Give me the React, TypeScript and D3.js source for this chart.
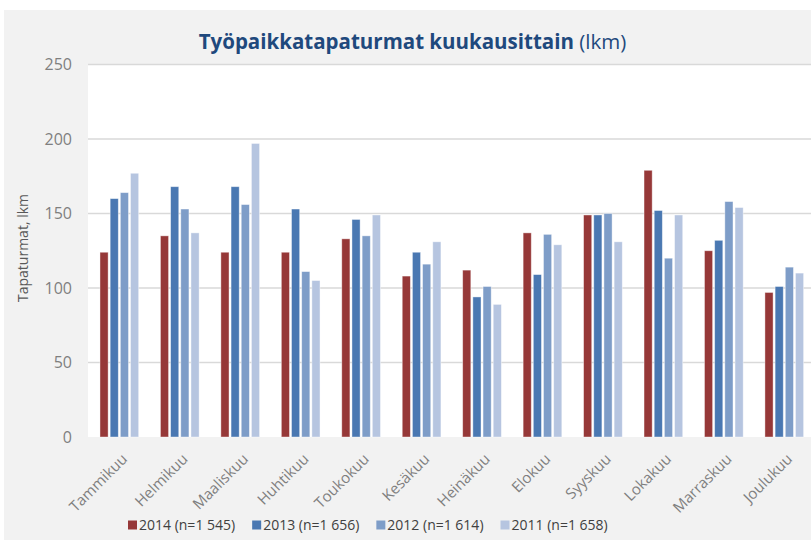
import { useEffect, useRef } from 'react';
import * as d3 from 'd3';

// kuukaudet
const months = [
  'Tammikuu', 'Helmikuu', 'Maaliskuu', 'Huhtikuu', 'Toukokuu', 'Kesäkuu',
  'Heinäkuu', 'Elokuu', 'Syyskuu', 'Lokakuu', 'Marraskuu', 'Joulukuu',
];
const seriesNames = ['2014 (n=1 545)', '2013 (n=1 656)', '2012 (n=1 614)', '2011 (n=1 658)'];
const values2014 = [124, 135, 124, 124, 133, 108, 112, 137, 149, 179, 125, 97];
const values2013 = [160, 168, 168, 153, 146, 124, 94, 109, 149, 152, 132, 101];
const values2012 = [164, 153, 156, 111, 135, 116, 101, 136, 150, 120, 158, 114];
const values2011 = [177, 137, 197, 105, 149, 131, 89, 129, 131, 149, 154, 110];
const yTicks = [0, 50, 100, 150, 200, 250];
const colors = ['#963838', '#4a78b2', '#7e9dc8', '#b6c5e0'];

const App: React.FC = () => {
  const svgRef = useRef<SVGSVGElement | null>(null);

  useEffect(() => {
    if (svgRef.current === null) return;
    const width = 811;
    const height = 540;
    const plot = { left: 88, right: 811, top: 64.5, bottom: 437 };
    const allValues = [values2014, values2013, values2012, values2011];

    const svg = d3.select(svgRef.current).attr('width', width).attr('height', height);
    svg.selectAll('*').remove();

    // taustat
    svg.append('rect').attr('width', width).attr('height', height).attr('fill', '#ffffff');
    svg.append('rect').attr('x', 4).attr('y', 10).attr('width', width).attr('height', height).attr('fill', '#f2f2f2');
    svg
      .append('rect')
      .attr('x', plot.left)
      .attr('y', plot.top)
      .attr('width', plot.right - plot.left)
      .attr('height', plot.bottom - plot.top)
      .attr('fill', '#ffffff');

    const y = d3.scaleLinear().domain([0, 250]).range([plot.bottom, plot.top]);
    const x0 = d3
      .scaleBand<string>()
      .domain(months)
      .range([89.1, 814.5])
      .paddingInner(0.36)
      .paddingOuter(0.18);
    const x1 = d3
      .scaleBand<string>()
      .domain(seriesNames)
      .range([0, x0.bandwidth()])
      .paddingInner(0.2);

    // ruudukko
    svg
      .selectAll('.grid')
      .data(yTicks.filter((d) => d > 0))
      .enter()
      .append('line')
      .attr('x1', plot.left)
      .attr('x2', plot.right)
      .attr('y1', (d) => y(d))
      .attr('y2', (d) => y(d))
      .attr('stroke', '#d9d9d9')
      .attr('stroke-width', 1.5);

    // y-akselin luvut
    svg
      .selectAll('.ytick')
      .data(yTicks)
      .enter()
      .append('text')
      .attr('x', 72)
      .attr('y', (d) => y(d))
      .attr('dy', '0.35em')
      .attr('text-anchor', 'end')
      .attr('fill', '#7f7f7f')
      .style('font-size', '16px')
      .text((d) => d);

    svg
      .append('text')
      .attr('transform', `translate(28, 248) rotate(-90)`)
      .attr('text-anchor', 'middle')
      .attr('fill', '#595959')
      .style('font-size', '14px')
      .text('Tapaturmat, lkm');

    // pylväät
    const groups = svg
      .selectAll('.month')
      .data(months)
      .enter()
      .append('g')
      .attr('transform', (d) => `translate(${x0(d)},0)`);

    groups
      .selectAll('rect')
      .data((_d, i) => seriesNames.map((s, j) => ({ s, j, v: allValues[j][i] })))
      .enter()
      .append('rect')
      .attr('x', (d) => x1(d.s)!)
      .attr('y', (d) => y(d.v))
      .attr('width', x1.bandwidth())
      .attr('height', (d) => y(0) - y(d.v))
      .attr('fill', (d) => colors[d.j])
      .attr('stroke', '#ffffff')
      .attr('stroke-opacity', 0.5)
      .attr('stroke-width', 0.8);

    // x-akselin nimet
    svg
      .selectAll('.xlabel')
      .data(months)
      .enter()
      .append('text')
      .attr('transform', (d) => `translate(${x0(d)! + x0.bandwidth() / 2 + 9}, 460) rotate(-45)`)
      .attr('text-anchor', 'end')
      .attr('fill', '#7f7f7f')
      .style('font-size', '15px')
      .text((d) => d);

    // otsikko
    const title = svg
      .append('text')
      .attr('x', 412.5)
      .attr('y', 49)
      .attr('text-anchor', 'middle')
      .attr('fill', '#1f497d')
      .style('font-size', '20.5px');
    title.append('tspan').style('font-weight', 'bold').text('Työpaikkatapaturmat kuukausittain ');
    title.append('tspan').text('(lkm)');

    // selite
    let lx = 128;
    seriesNames.forEach((name, j) => {
      svg
        .append('rect')
        .attr('x', lx)
        .attr('y', 520.5)
        .attr('width', 9)
        .attr('height', 9)
        .attr('fill', colors[j]);
      const t = svg
        .append('text')
        .attr('x', lx + 11)
        .attr('y', 525)
        .attr('dy', '0.35em')
        .attr('fill', '#404040')
        .style('font-size', '14px')
        .text(name);
      const len = (t.node() as SVGTextElement).getComputedTextLength();
      lx += 11 + len + 17;
    });
  }, []);

  return (
    <svg
      ref={svgRef}
      style={{ position: 'absolute', left: 0, top: 0, fontFamily: "'Open Sans', sans-serif" }}
    ></svg>
  );
};

export default App;
